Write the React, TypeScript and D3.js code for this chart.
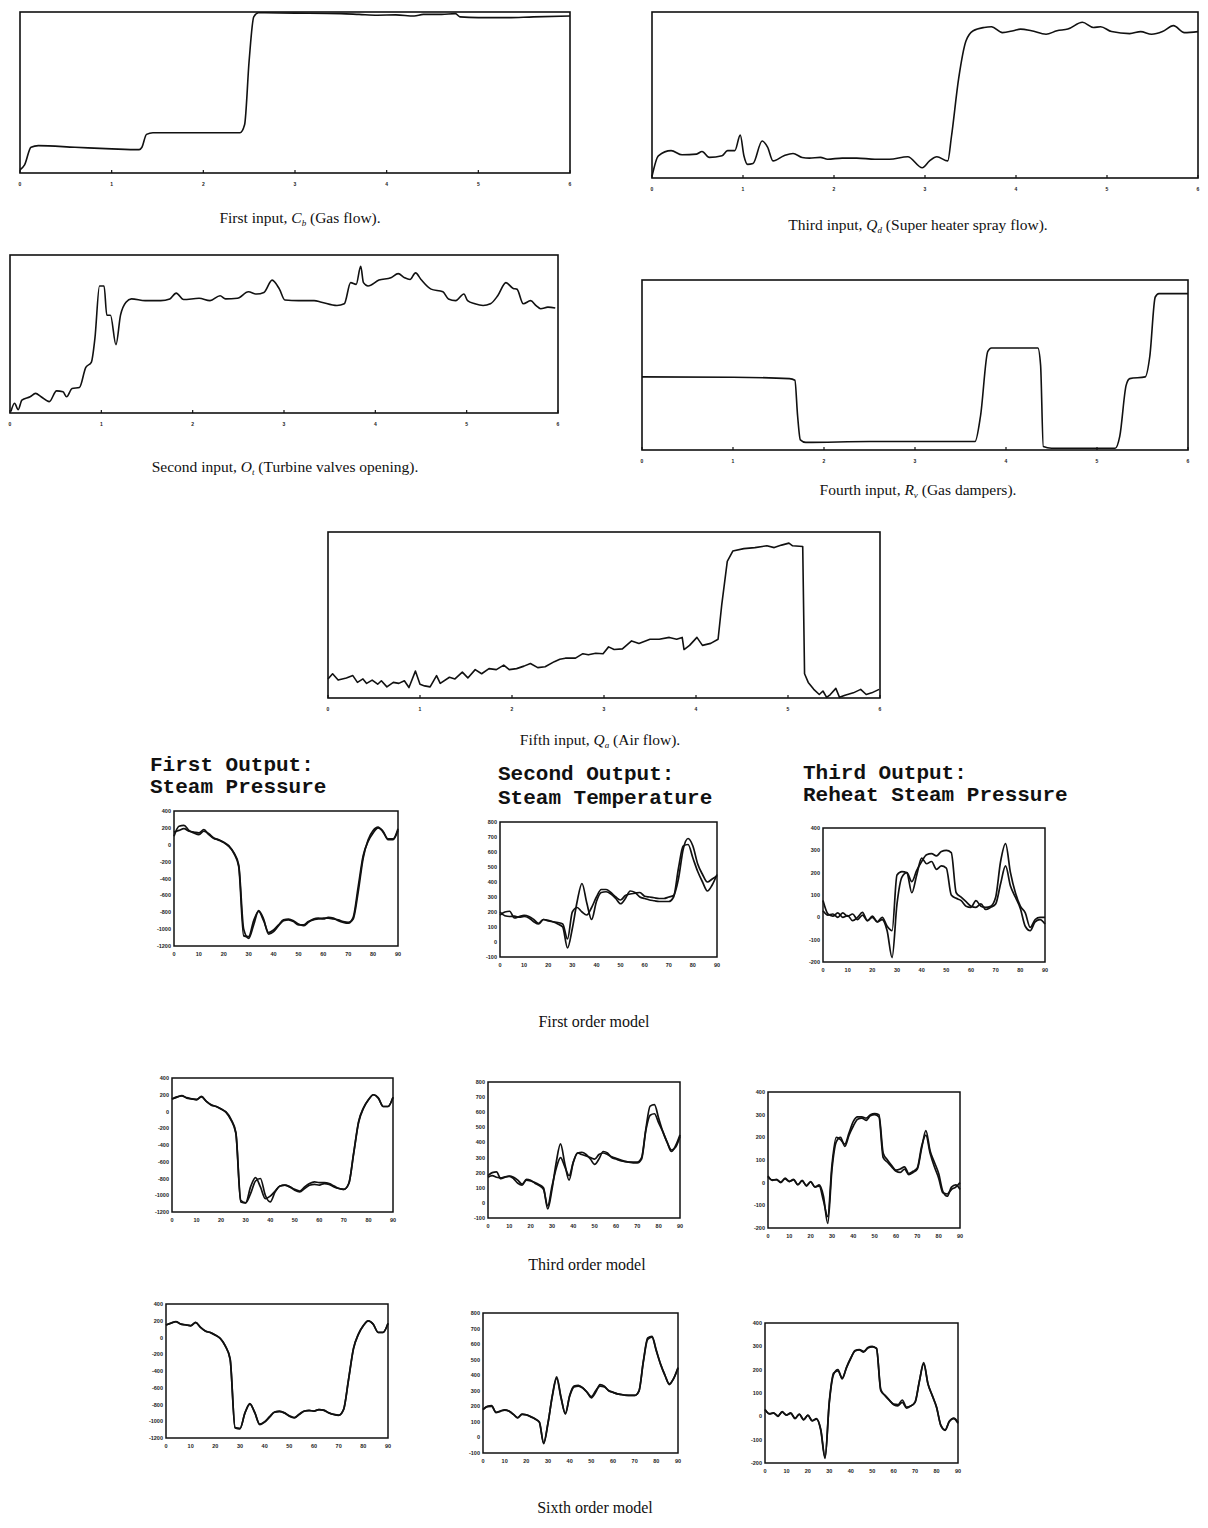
import * as d3 from 'd3';

type Pt = [number, number];

// ---- axis ticks ----
const inputTicks = [0, 1, 2, 3, 4, 5, 6];
const outputXTicks = [0, 10, 20, 30, 40, 50, 60, 70, 80, 90];
const pressureTicks = [400, 200, 0, -200, -400, -600, -800, -1000, -1200];
const temperatureTicks = [800, 700, 600, 500, 400, 300, 200, 100, 0, -100];
const reheatTicks = [400, 300, 200, 100, 0, -100, -200];

// ---- inputs (time 0..6, normalised level 0..1) ----
const gasFlow: Pt[] = [
  [0, 0.02], [0.05, 0.05], [0.12, 0.16], [0.2, 0.17], [0.6, 0.16], [1.0, 0.15], [1.3, 0.145],
  [1.33, 0.16], [1.38, 0.24], [1.45, 0.25], [2.0, 0.25], [2.4, 0.25], [2.45, 0.3], [2.5, 0.7],
  [2.55, 0.97], [2.6, 0.995], [3.0, 0.993], [3.5, 0.99], [3.7, 0.985], [3.9, 0.98], [4.1, 0.982],
  [4.3, 0.975], [4.4, 0.985], [4.6, 0.985], [4.75, 0.99], [4.8, 0.97], [5.0, 0.965], [5.3, 0.965],
  [5.6, 0.97], [6.0, 0.975],
];

const turbineValves: Pt[] = [
  [0.01, 0.01], [0.05, 0.062], [0.09, 0.021], [0.13, 0.082], [0.22, 0.103], [0.28, 0.124],
  [0.34, 0.103], [0.43, 0.072], [0.51, 0.14], [0.58, 0.134], [0.62, 0.103], [0.68, 0.155],
  [0.76, 0.161], [0.83, 0.289], [0.89, 0.32], [0.93, 0.474], [0.98, 0.804], [1.03, 0.804],
  [1.06, 0.619], [1.1, 0.619], [1.16, 0.433], [1.21, 0.619], [1.27, 0.701], [1.33, 0.722],
  [1.48, 0.711], [1.65, 0.711], [1.75, 0.722], [1.82, 0.759], [1.9, 0.718], [2.07, 0.726],
  [2.19, 0.711], [2.3, 0.742], [2.36, 0.722], [2.49, 0.726], [2.61, 0.767], [2.7, 0.753],
  [2.78, 0.763], [2.87, 0.841], [2.95, 0.784], [3.01, 0.715], [3.16, 0.711], [3.33, 0.711],
  [3.41, 0.701], [3.58, 0.68], [3.66, 0.691], [3.73, 0.825], [3.79, 0.814], [3.84, 0.928],
  [3.87, 0.825], [3.92, 0.804], [4.04, 0.841], [4.17, 0.856], [4.25, 0.882], [4.32, 0.856],
  [4.38, 0.845], [4.44, 0.887], [4.5, 0.845], [4.61, 0.784], [4.74, 0.767], [4.8, 0.722],
  [4.88, 0.711], [4.97, 0.753], [5.01, 0.711], [5.09, 0.691], [5.18, 0.68], [5.26, 0.691],
  [5.34, 0.742], [5.43, 0.825], [5.51, 0.788], [5.55, 0.784], [5.62, 0.691], [5.7, 0.711],
  [5.76, 0.68], [5.81, 0.66], [5.89, 0.67], [5.97, 0.664],
];

const sprayFlow: Pt[] = [
  [0, 0.01], [0.07, 0.134], [0.21, 0.165], [0.33, 0.14], [0.49, 0.144], [0.55, 0.16],
  [0.63, 0.124], [0.77, 0.134], [0.83, 0.165], [0.91, 0.165], [0.97, 0.258], [1.01, 0.134],
  [1.05, 0.082], [1.11, 0.087], [1.21, 0.223], [1.27, 0.186], [1.33, 0.103], [1.45, 0.134],
  [1.55, 0.148], [1.65, 0.124], [1.73, 0.12], [1.85, 0.124], [1.93, 0.113], [2.09, 0.12],
  [2.25, 0.12], [2.45, 0.113], [2.61, 0.113], [2.81, 0.128], [2.97, 0.062], [3.05, 0.103],
  [3.13, 0.128], [3.25, 0.103], [3.29, 0.247], [3.37, 0.6], [3.45, 0.825], [3.53, 0.887],
  [3.65, 0.907], [3.73, 0.911], [3.85, 0.876], [3.97, 0.887], [4.05, 0.897], [4.17, 0.887],
  [4.33, 0.866], [4.45, 0.887], [4.57, 0.897], [4.73, 0.938], [4.85, 0.907], [4.93, 0.911],
  [5.05, 0.882], [5.25, 0.87], [5.37, 0.882], [5.49, 0.866], [5.61, 0.882], [5.73, 0.918],
  [5.85, 0.876], [6.0, 0.882],
];

const gasDampers: Pt[] = [
  [0, 0.43], [1.0, 0.428], [1.62, 0.42], [1.68, 0.41], [1.71, 0.2], [1.74, 0.06], [1.8, 0.045],
  [2.5, 0.05], [3.0, 0.05], [3.66, 0.05], [3.72, 0.2], [3.8, 0.58], [3.84, 0.6], [4.35, 0.6],
  [4.38, 0.5], [4.41, 0.02], [4.5, 0.01], [5.2, 0.01], [5.25, 0.08], [5.32, 0.38], [5.36, 0.42],
  [5.53, 0.43], [5.58, 0.55], [5.64, 0.9], [5.68, 0.92], [5.96, 0.92], [6.0, 0.92],
];

const airFlow: Pt[] = [
  [0, 0.115], [0.05, 0.146], [0.11, 0.108], [0.2, 0.121], [0.27, 0.135], [0.32, 0.094],
  [0.38, 0.115], [0.42, 0.088], [0.48, 0.108], [0.54, 0.083], [0.58, 0.104], [0.64, 0.067],
  [0.71, 0.094], [0.77, 0.088], [0.83, 0.104], [0.88, 0.063], [0.95, 0.162], [1.0, 0.083],
  [1.05, 0.073], [1.11, 0.067], [1.18, 0.135], [1.22, 0.088], [1.32, 0.125], [1.38, 0.115],
  [1.46, 0.156], [1.52, 0.121], [1.6, 0.171], [1.67, 0.146], [1.75, 0.177], [1.83, 0.171],
  [1.91, 0.198], [1.97, 0.171], [2.05, 0.177], [2.13, 0.192], [2.2, 0.208], [2.28, 0.183],
  [2.36, 0.188], [2.46, 0.219], [2.52, 0.233], [2.58, 0.24], [2.69, 0.24], [2.77, 0.267],
  [2.83, 0.26], [2.91, 0.27], [2.99, 0.267], [3.05, 0.308], [3.11, 0.292], [3.2, 0.296],
  [3.3, 0.344], [3.38, 0.329], [3.5, 0.354], [3.6, 0.354], [3.71, 0.365], [3.79, 0.354],
  [3.85, 0.365], [3.87, 0.292], [3.93, 0.317], [4.01, 0.365], [4.07, 0.317], [4.16, 0.329],
  [4.24, 0.354], [4.28, 0.563], [4.34, 0.823], [4.4, 0.885], [4.52, 0.9], [4.64, 0.906],
  [4.77, 0.917], [4.85, 0.906], [4.93, 0.921], [5.01, 0.933], [5.05, 0.917], [5.16, 0.913],
  [5.18, 0.146], [5.22, 0.094], [5.28, 0.052], [5.34, 0.021], [5.38, 0.042], [5.42, 0.004],
  [5.46, 0.021], [5.52, 0.058], [5.56, 0.004], [5.62, 0.017], [5.71, 0.031], [5.79, 0.052],
  [5.85, 0.021], [5.91, 0.031], [5.99, 0.052],
];

// ---- outputs (time 0..90) ----
const outTime = [
  0, 2, 4, 6, 8, 10, 12, 14, 16, 18, 20, 22, 24, 26, 28, 30, 32, 34, 36, 38, 40, 42, 44,
  46, 48, 50, 52, 54, 56, 58, 60, 62, 64, 66, 68, 70, 72, 74, 76, 78, 80, 82, 84, 86, 88, 90,
];

const pressureMeasured = [
  150, 170, 190, 160, 150, 140, 180, 120, 75, 60, 30, -10, -100, -260, -1080, -1090, -900, -790,
  -900, -1040, -1010, -950, -890, -880, -900, -940, -960, -920, -880, -870, -880, -860, -870,
  -900, -920, -930, -860, -500, -130, 40, 140, 200, 160, 60, 60, 170,
];
const pressureFirst = [
  100, 220, 230, 170, 140, 120, 160, 130, 80, 55, 25, -20, -90, -240, -1000, -1110, -950, -780,
  -880, -1060, -1030, -960, -900, -890, -910, -950, -950, -910, -890, -880, -870, -870, -880,
  -890, -910, -920, -880, -560, -160, 60, 170, 210, 150, 70, 70, 190,
];
const pressureThird = [
  150, 175, 185, 165, 150, 145, 175, 120, 80, 60, 30, -5, -90, -250, -1060, -1090, -980, -830,
  -800, -1000, -1080, -960, -890, -880, -900, -930, -950, -900, -860, -840, -850, -850, -860,
  -890, -920, -930, -860, -490, -120, 45, 140, 200, 165, 60, 60, 170,
];
const pressureSixth = [
  150, 172, 188, 160, 152, 142, 178, 122, 78, 58, 28, -12, -98, -255, -1075, -1085, -905, -795,
  -895, -1035, -1005, -945, -892, -885, -900, -935, -955, -915, -878, -872, -878, -862, -868,
  -898, -918, -928, -858, -505, -135, 38, 142, 198, 158, 62, 62, 168,
];

const temperatureMeasured = [
  180, 200, 205, 160, 170, 178, 170, 150, 125, 150, 145, 135, 120, 100, -40, 90, 270, 390, 260,
  150, 270, 330, 335, 320, 290, 255, 290, 340, 330, 300, 290, 280, 275, 270, 270, 270, 300, 490,
  640, 650, 560, 470, 400, 340, 380, 450,
];
const temperatureFirst = [
  200, 175, 170, 172, 165, 170, 160, 135, 120, 150, 140, 135, 130, 120, 20, 200, 230, 200, 180,
  230, 300, 350, 350, 330, 300, 280, 310, 320, 325, 330, 305, 300, 295, 290, 290, 300, 310, 420,
  620, 690, 640, 520, 450, 400, 420, 440,
];
const temperatureThird = [
  170, 180, 170, 165, 172, 175, 160, 130, 118, 155, 150, 130, 115, 90, -20, 110, 230, 300, 240,
  180, 270, 330, 320, 310, 300, 290, 320, 330, 320, 305, 295, 285, 275, 270, 265, 265, 290, 480,
  580, 590, 530, 470, 400, 350, 370, 440,
];
const temperatureSixth = [
  178, 198, 200, 162, 168, 176, 168, 148, 128, 148, 146, 132, 118, 98, -35, 95, 265, 380, 255,
  155, 265, 325, 330, 318, 292, 262, 300, 330, 325, 302, 290, 280, 276, 272, 270, 270, 298, 485,
  630, 645, 555, 468, 398, 345, 378, 445,
];

const reheatMeasured = [
  30, 10, 15, 0, 20, 5, 15, -10, 10, -15, 5, -20, -10, -60, -180, 60, 180, 200, 160, 210, 250,
  280, 285, 275, 295, 300, 290, 110, 90, 70, 50, 45, 60, 35, 45, 60, 150, 230, 140, 90, 40, -40,
  -60, -20, -10, -30,
];
const reheatFirst = [
  75, 15, 5, 20, 0, 8, -15, 0, 22, -15, 0, -20, 0, -40, -60, 190, 205, 200, 110, 190, 265, 240,
  250, 215, 230, 220, 100, 85, 75, 50, 45, 75, 50, 45, 50, 90, 250, 330, 200, 110, 50, 20, -45,
  -10, 0, 0,
];
const reheatThird = [
  25, 12, 12, 3, 17, 6, 12, -8, 8, -12, 3, -18, -15, -80, -150, 80, 200, 190, 170, 220, 270,
  290, 290, 285, 300, 305, 300, 130, 100, 75, 55, 60, 70, 40, 50, 65, 160, 210, 130, 70, 20, -45,
  -50, -30, -20, 0,
];
const reheatSixth = [
  28, 12, 14, 2, 18, 6, 13, -8, 8, -14, 4, -18, -12, -55, -175, 65, 185, 195, 165, 208, 248,
  282, 286, 278, 293, 298, 292, 115, 88, 68, 52, 50, 70, 40, 44, 62, 152, 225, 138, 88, 38, -38,
  -58, -22, -8, -25,
];

// ---- layout ----
type Box = { x0: number; x1: number; y0: number; y1: number };

const serif = 'Liberation Serif, Times New Roman, serif';
const mono = 'Liberation Mono, Courier New, monospace';

function InputPanel({ data, box, smooth = true }: { data: Pt[]; box: Box; smooth?: boolean }) {
  const x = d3.scaleLinear().domain([0, 6]).range([box.x0, box.x1]);
  const y = d3.scaleLinear().domain([0, 1]).range([box.y1, box.y0]);
  const line = d3.line<Pt>().x((d) => x(d[0])).y((d) => y(d[1]))
    .curve(smooth ? d3.curveMonotoneX : d3.curveLinear);
  return (
    <g>
      <rect x={box.x0} y={box.y0} width={box.x1 - box.x0} height={box.y1 - box.y0}
        fill="none" stroke="#111" strokeWidth={1.6} />
      {inputTicks.map((t) => (
        <g key={t}>
          <line x1={x(t)} x2={x(t)} y1={box.y1} y2={box.y1 - 3} stroke="#111" strokeWidth={1.2} />
          <text x={x(t)} y={box.y1 + 13} fontSize={5} fontWeight="bold" textAnchor="middle"
            fontFamily="Liberation Sans, sans-serif" fill="#222">{t}</text>
        </g>
      ))}
      <path d={line(data) ?? ''} fill="none" stroke="#111" strokeWidth={1.6} strokeLinejoin="round" />
    </g>
  );
}

function OutputPanel({ series, box, domain, ticks }: {
  series: number[][]; box: Box; domain: [number, number]; ticks: number[];
}) {
  const x = d3.scaleLinear().domain([0, 90]).range([box.x0, box.x1]);
  const y = d3.scaleLinear().domain(domain).range([box.y1, box.y0]);
  const line = d3.line<number>().x((_, i) => x(outTime[i])).y((d) => y(d)).curve(d3.curveMonotoneX);
  return (
    <g>
      <rect x={box.x0} y={box.y0} width={box.x1 - box.x0} height={box.y1 - box.y0}
        fill="none" stroke="#111" strokeWidth={1.5} />
      {ticks.map((t) => (
        <text key={t} x={box.x0 - 3} y={y(t) + 2} fontSize={5.5} fontWeight="bold" textAnchor="end"
          fontFamily="Liberation Sans, sans-serif" fill="#222">{t}</text>
      ))}
      {outputXTicks.map((t) => (
        <text key={t} x={x(t)} y={box.y1 + 10} fontSize={5.5} fontWeight="bold" textAnchor="middle"
          fontFamily="Liberation Sans, sans-serif" fill="#222">{t}</text>
      ))}
      {series.map((s, i) => (
        <path key={i} d={line(s) ?? ''} fill="none" stroke="#111" strokeWidth={1.7}
          strokeLinejoin="round" />
      ))}
    </g>
  );
}

function Caption({ x, y, before, sym, sub, after }: {
  x: number; y: number; before: string; sym: string; sub: string; after: string;
}) {
  return (
    <text x={x} y={y} fontFamily={serif} fontSize={15.5} textAnchor="middle" fill="#111">
      {before}
      <tspan fontStyle="italic">{sym}</tspan>
      <tspan fontStyle="italic" fontSize={9} dy={3}>{sub}</tspan>
      <tspan dy={-3}>{after}</tspan>
    </text>
  );
}

const pressureBoxes: Box[] = [
  { x0: 174, x1: 398, y0: 811, y1: 946 },
  { x0: 172, x1: 393, y0: 1078, y1: 1212 },
  { x0: 166, x1: 388, y0: 1304, y1: 1438 },
];
const temperatureBoxes: Box[] = [
  { x0: 500, x1: 717, y0: 822, y1: 957 },
  { x0: 488, x1: 680, y0: 1082, y1: 1218 },
  { x0: 483, x1: 678, y0: 1313, y1: 1453 },
];
const reheatBoxes: Box[] = [
  { x0: 823, x1: 1045, y0: 828, y1: 962 },
  { x0: 768, x1: 960, y0: 1092, y1: 1228 },
  { x0: 765, x1: 958, y0: 1323, y1: 1463 },
];

export default function App() {
  const pressureModels = [pressureFirst, pressureThird, pressureSixth];
  const temperatureModels = [temperatureFirst, temperatureThird, temperatureSixth];
  const reheatModels = [reheatFirst, reheatThird, reheatSixth];
  const modelCaptions = [
    { text: 'First order model', x: 594, y: 1027 },
    { text: 'Third order model', x: 587, y: 1270 },
    { text: 'Sixth order model', x: 595, y: 1513 },
  ];

  return (
    <svg width={1208} height={1528} viewBox="0 0 1208 1528"
      style={{ position: 'absolute', left: 0, top: 0, background: '#fff' }}>
      <rect width={1208} height={1528} fill="#fff" />

      <InputPanel data={gasFlow} box={{ x0: 20, x1: 570, y0: 12, y1: 173 }} />
      <Caption x={300} y={223} before="First input, " sym="C" sub="b" after=" (Gas flow)." />

      <InputPanel data={sprayFlow} box={{ x0: 652, x1: 1198, y0: 12, y1: 178 }} />
      <Caption x={918} y={230} before="Third input, " sym="Q" sub="d" after=" (Super heater spray flow)." />

      <InputPanel data={turbineValves} box={{ x0: 10, x1: 558, y0: 255, y1: 413 }} />
      <Caption x={285} y={472} before="Second input, " sym="O" sub="t" after=" (Turbine valves opening)." />

      <InputPanel data={gasDampers} box={{ x0: 642, x1: 1188, y0: 280, y1: 450 }} />
      <Caption x={918} y={495} before="Fourth input, " sym="R" sub="v" after=" (Gas dampers)." />

      <InputPanel data={airFlow} box={{ x0: 328, x1: 880, y0: 532, y1: 698 }} smooth={false} />
      <Caption x={600} y={745} before="Fifth input, " sym="Q" sub="a" after=" (Air flow)." />

      <g fontFamily={mono} fontWeight="bold" fontSize={21} fill="#111">
        <text x={150} y={771}>First Output:</text>
        <text x={150} y={793}>Steam Pressure</text>
        <text x={498} y={780}>Second Output:</text>
        <text x={498} y={804}>Steam Temperature</text>
        <text x={803} y={779}>Third Output:</text>
        <text x={803} y={801}>Reheat Steam Pressure</text>
      </g>

      {[0, 1, 2].map((r) => (
        <g key={r}>
          <OutputPanel series={[pressureMeasured, pressureModels[r]]} box={pressureBoxes[r]}
            domain={[-1200, 400]} ticks={pressureTicks} />
          <OutputPanel series={[temperatureMeasured, temperatureModels[r]]} box={temperatureBoxes[r]}
            domain={[-100, 800]} ticks={temperatureTicks} />
          <OutputPanel series={[reheatMeasured, reheatModels[r]]} box={reheatBoxes[r]}
            domain={[-200, 400]} ticks={reheatTicks} />
          <text x={modelCaptions[r].x} y={modelCaptions[r].y} fontFamily={serif} fontSize={16}
            textAnchor="middle" fill="#111">{modelCaptions[r].text}</text>
        </g>
      ))}
    </svg>
  );
}
